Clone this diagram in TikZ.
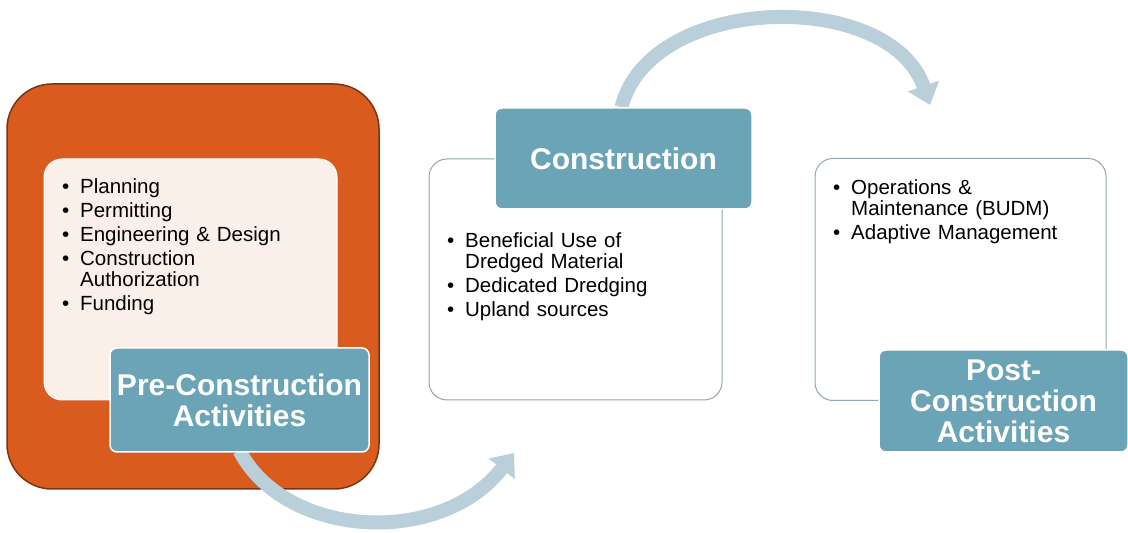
\documentclass[tikz,border=0pt]{standalone}
\usepackage{fontspec}
\setmainfont{Liberation Sans}
\usetikzlibrary{arrows.meta}
\definecolor{rust}{HTML}{D95B1E}
\definecolor{rustdark}{HTML}{7A3412}
\definecolor{teal}{HTML}{6BA4B6}
\definecolor{flow}{HTML}{B9CFDA}
\definecolor{cream}{HTML}{FBF0E9}
\definecolor{edge}{HTML}{8FA6AE}
\newcommand{\bitem}[1]{\noindent\makebox[18pt][l]{\textbullet}\begin{tabular}[t]{@{}l@{}}#1\end{tabular}\par\vspace{2pt}}
\pgfdeclarelayer{back}
\pgfdeclarelayer{mid}
\pgfsetlayers{back,mid,main}
\begin{document}
\begin{tikzpicture}[x=1pt,y=1pt,
    panel/.style={draw=edge,line width=1pt,fill=white,rounded corners=18pt,minimum width=293pt,minimum height=241pt,inner sep=0pt},
    lbl/.style={draw=white,line width=1.5pt,fill=teal,rounded corners=7pt,text=white,align=center,inner sep=0pt,
      font=\bfseries\fontsize{30}{31}\selectfont},
    listtxt/.style={anchor=north west,text width=250pt,align=left,inner sep=0pt,font=\fontsize{20.5}{21}\selectfont},
    flowarrow/.style={draw=flow,line width=14pt,-{Triangle[width=32pt,length=20pt]}}]
  \useasboundingbox (0,0) rectangle (1128,533);
  % first step
  \begin{pgfonlayer}{back}
    \node[draw=rustdark,line width=1.5pt,fill=rust,rounded corners=45pt,minimum width=372pt,minimum height=405pt] (prebg) at (193,246.5) {};
    \node[panel,draw=white,fill=cream] (prebox) at (190.5,253.5) {};
  \end{pgfonlayer}
  \node[lbl,minimum width=259pt,minimum height=104pt] (prelbl) at (239.5,133) {Pre-Construction\\Activities};
  \node[listtxt] (pretxt) at (62,355) {\bitem{Planning}\bitem{Permitting}\bitem{Engineering \& Design}\bitem{Construction\\Authorization}\bitem{Funding}};
  % second step
  \begin{pgfonlayer}{back}
    \node[panel] (conbox) at (575.5,253.5) {};
  \end{pgfonlayer}
  \node[lbl,minimum width=257pt,minimum height=101pt] (conlbl) at (623.5,374.5) {Construction};
  \node[listtxt] (contxt) at (447,301) {\bitem{Beneficial Use of\\Dredged Material}\bitem{Dedicated Dredging}\bitem{Upland sources}};
  % third step
  \begin{pgfonlayer}{back}
    \node[panel,minimum width=291pt,minimum height=242pt] (postbox) at (960.5,253.5) {};
  \end{pgfonlayer}
  \node[lbl,minimum width=249pt,minimum height=102pt] (postlbl) at (1003.5,132) {Post-\\Construction\\Activities};
  \node[listtxt] (posttxt) at (833,354) {\bitem{Operations \&\\Maintenance (BUDM)}\bitem{Adaptive Management}};
  % arrows between steps
  \coordinate (tipA) at (514,80);
  \coordinate (tipB) at (930,428);
  \begin{pgfonlayer}{mid}
    \draw[flowarrow] ([yshift=2pt]prelbl.south) .. controls (285,-5) and (440,-15) .. (tipA);
    \draw[flowarrow] ([xshift=-2pt]conlbl.north) .. controls (650,540) and (890,545) .. (tipB);
  \end{pgfonlayer}
\end{tikzpicture}
\end{document}
